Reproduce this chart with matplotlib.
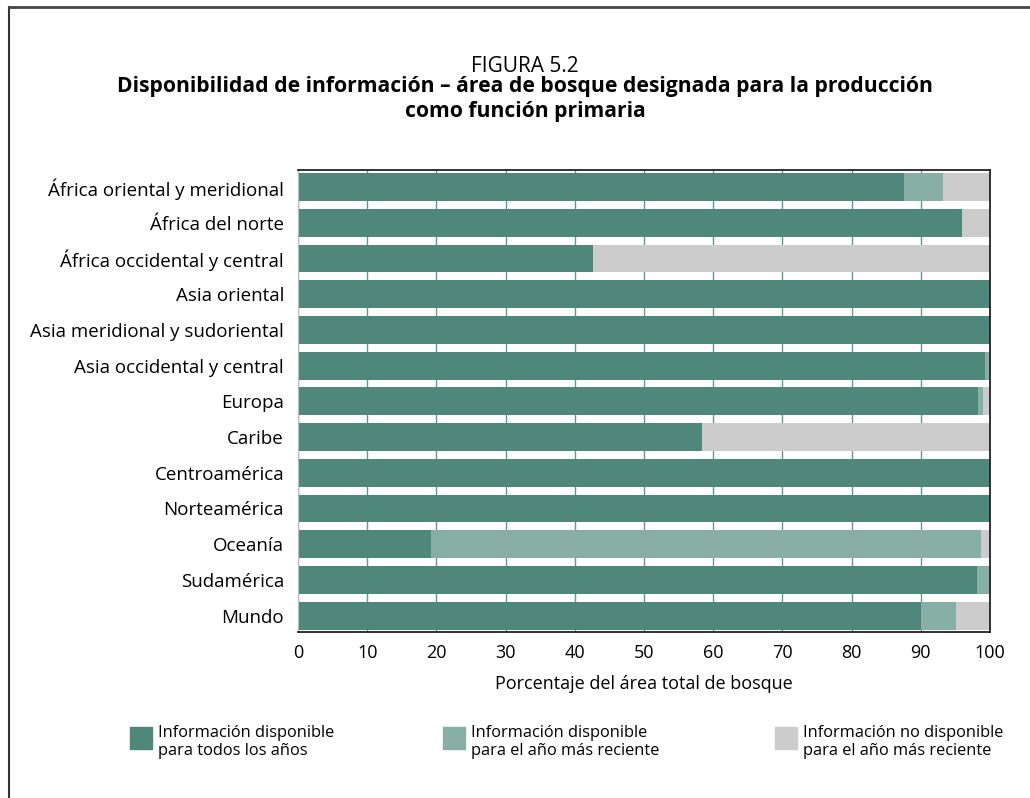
import matplotlib.pyplot as plt
from matplotlib.patches import Rectangle
from matplotlib.lines import Line2D

plt.rcParams['font.family'] = ['Open Sans', 'DejaVu Sans']

regiones = ['África oriental y meridional', 'África del norte', 'África occidental y central',
            'Asia oriental', 'Asia meridional y sudoriental', 'Asia occidental y central',
            'Europa', 'Caribe', 'Centroamérica', 'Norteamérica', 'Oceanía', 'Sudamérica', 'Mundo']
todos_anios = [87.6, 96.0, 42.6, 100, 100, 99.3, 98.3, 58.4, 100, 100, 19.2, 98.1, 90.0]
anio_reciente = [5.6, 0, 0, 0, 0, 0.7, 0.7, 0, 0, 0, 79.5, 1.9, 5.1]
no_disponible = [6.8, 4.0, 57.4, 0, 0, 0, 1.0, 41.6, 0, 0, 1.3, 0, 4.9]

leyenda = ['Información disponible\npara todos los años',
           'Información disponible\npara el año más reciente',
           'Información no disponible\npara el año más reciente']
colores = ['#4f877b', '#87afa5', '#cccccc']

fig = plt.figure(figsize=(10.30, 7.98), dpi=100)
ax = fig.add_axes([298 / 1030, 1 - 632 / 798, 692 / 1030, 462 / 798])

y = list(range(len(regiones)))
h = 0.78
ax.barh(y, todos_anios, height=h, color=colores[0], zorder=2)
izq = todos_anios
ax.barh(y, anio_reciente, left=izq, height=h, color=colores[1], zorder=2)
izq = [a + b for a, b in zip(todos_anios, anio_reciente)]
ax.barh(y, no_disponible, left=izq, height=h, color=colores[2], zorder=2)

ax.set_xlim(0, 100)
ax.set_ylim(12.46, -0.48)
ax.set_xticks(range(0, 101, 10))
ax.set_yticks(y)
ax.set_yticklabels(regiones, fontsize=13.5)
ax.tick_params(axis='x', labelsize=13, length=0, pad=9)
ax.tick_params(axis='y', length=0, pad=10)
ax.xaxis.grid(True, color='#5f9a8e', linewidth=1.0, zorder=0)
ax.set_axisbelow(True)
for s in ['top', 'right', 'bottom']:
    ax.spines[s].set_color('#222222')
    ax.spines[s].set_linewidth(1.3)
ax.spines['left'].set_color('#bbbbbb')
ax.set_xlabel('Porcentaje del área total de bosque', fontsize=13, labelpad=9)

fig.text(0.51, 1 - 66 / 798, 'FIGURA 5.2', ha='center', va='center', fontsize=15)
fig.text(0.51, 1 - 99 / 798,
         'Disponibilidad de información – área de bosque designada para la producción\ncomo función primaria',
         ha='center', va='center', fontsize=15.2, fontweight='bold', linespacing=1.3)

# leyenda
xs = [130, 443, 775]
for x0, txt, c in zip(xs, leyenda, colores):
    fig.patches.append(Rectangle((x0 / 1030, 1 - 749 / 798), 22 / 1030, 22 / 798,
                                 transform=fig.transFigure, color=c))
    fig.text((x0 + 28) / 1030, 1 - 742 / 798, txt, ha='left', va='center',
             fontsize=11.8, linespacing=1.2)

# marco
fig.add_artist(Line2D([9 / 1030, 9 / 1030], [0, 1 - 7 / 798], color='#333333', lw=1.5))
fig.add_artist(Line2D([9 / 1030, 1], [1 - 7 / 798, 1 - 7 / 798], color='#444444', lw=2))

fig.savefig('out.png', dpi=100)
